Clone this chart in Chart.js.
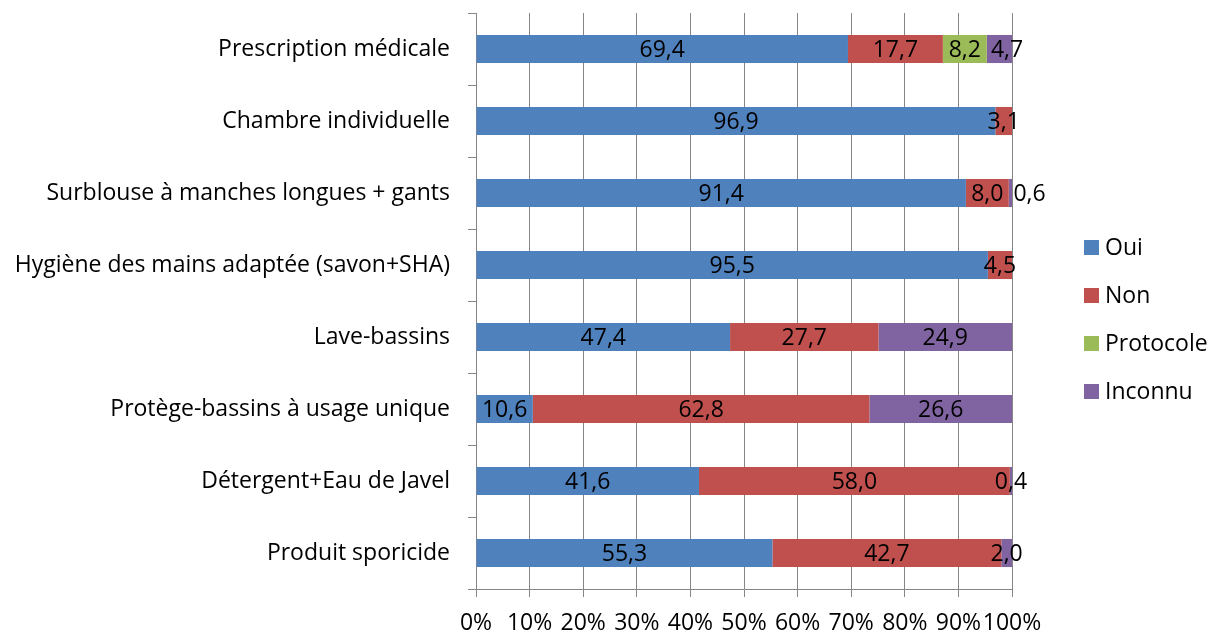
<!DOCTYPE html>
<html>
<head>
<meta charset="utf-8">
<script src="https://cdn.jsdelivr.net/npm/chart.js@4"></script>
<style>
  html, body { margin: 0; padding: 0; background: #fff; }
  #wrap { width: 1212px; height: 633px; }
</style>
</head>
<body>
<div id="wrap"><canvas id="chart" width="1212" height="633"></canvas></div>
<script>
// Categories, top to bottom
const categories = [
  'Prescription médicale',
  'Chambre individuelle',
  'Surblouse à manches longues + gants',
  'Hygiène des mains adaptée (savon+SHA)',
  'Lave-bassins',
  'Protège-bassins à usage unique',
  'Détergent+Eau de Javel',
  'Produit sporicide'
];

// Shares (%) per answer
const oui       = [69.4, 96.9, 91.4, 95.5, 47.4, 10.6, 41.6, 55.3];
const non       = [17.7,  3.1,  8.0,  4.5, 27.7, 62.8, 58.0, 42.7];
const protocole = [ 8.2, null, null, null, null, null, null, null];
const inconnu   = [ 4.7, null,  0.6, null, 24.9, 26.6,  0.4,  2.0];

const seriesNames = ['Oui', 'Non', 'Protocole', 'Inconnu'];
const percentTicks = ['0%', '10%', '20%', '30%', '40%', '50%', '60%', '70%', '80%', '90%', '100%'];

const FONT = '"Open Sans", Lato, sans-serif';
const FONT_SIZE = 23;
const AXIS_GRAY = '#868686';

function fmt(v) { return v.toFixed(1).replace('.', ','); }

// Value labels centred in each segment, nudged right when they would crowd the previous one
const valueLabels = {
  id: 'valueLabels',
  afterDatasetsDraw(chart) {
    const ctx = chart.ctx;
    ctx.save();
    ctx.font = FONT_SIZE + 'px ' + FONT;
    ctx.fillStyle = '#000';
    ctx.textBaseline = 'middle';
    ctx.textAlign = 'left';
    const lastRight = {};
    const minGap = 10;
    chart.data.datasets.forEach((ds, di) => {
      const meta = chart.getDatasetMeta(di);
      meta.data.forEach((bar, i) => {
        const v = ds.data[i];
        if (v == null) return;
        const txt = fmt(v);
        const w = ctx.measureText(txt).width;
        let x = (bar.x + bar.base) / 2 - w / 2;
        if (lastRight[i] !== undefined && x < lastRight[i] + minGap) x = lastRight[i] + minGap;
        ctx.fillText(txt, x, bar.y + 1);
        lastRight[i] = x + w;
      });
    });
    ctx.restore();
  }
};

// Vertical legend on the right of the plot
const sideLegend = {
  id: 'sideLegend',
  afterDraw(chart) {
    const { ctx, chartArea } = chart;
    const x0 = chartArea.right + 72;
    const rowGap = 48;
    const items = chart.data.datasets;
    const midY = chart.height / 2 + 3;
    const startY = midY - rowGap * (items.length - 1) / 2;
    ctx.save();
    ctx.font = FONT_SIZE + 'px ' + FONT;
    ctx.textBaseline = 'middle';
    ctx.textAlign = 'left';
    items.forEach((ds, i) => {
      const y = startY + i * rowGap;
      ctx.fillStyle = ds.backgroundColor;
      ctx.fillRect(x0, y - 7.5, 15, 15);
      ctx.fillStyle = '#000';
      ctx.fillText(ds.label, x0 + 21, y + 1);
    });
    ctx.restore();
  }
};

const colors = ['#4F81BD', '#C0504D', '#9BBB59', '#8064A2'];
const seriesData = [oui, non, protocole, inconnu];

new Chart(document.getElementById('chart'), {
  type: 'bar',
  data: {
    labels: categories,
    datasets: seriesNames.map((name, k) => ({
      label: name,
      data: seriesData[k],
      backgroundColor: colors[k],
      borderWidth: 0,
      barPercentage: 0.39,
      categoryPercentage: 1
    }))
  },
  options: {
    indexAxis: 'y',
    responsive: false,
    animation: false,
    layout: { padding: { top: 13, right: 200, bottom: 0, left: 10 } },
    plugins: {
      legend: { display: false },
      tooltip: { enabled: false }
    },
    scales: {
      x: {
        stacked: true,
        min: 0,
        max: 100,
        ticks: {
          stepSize: 10,
          color: '#000',
          padding: 13,
          maxRotation: 0,
          autoSkip: false,
          font: { family: FONT, size: FONT_SIZE },
          callback: (v) => percentTicks[Math.round(v / 10)]
        },
        grid: { color: AXIS_GRAY, lineWidth: 1, tickLength: 8, drawTicks: true },
        border: { color: AXIS_GRAY, width: 1 },
        afterFit(scale) { scale.height = 44; }
      },
      y: {
        stacked: true,
        ticks: {
          color: '#000',
          padding: 18,
          font: { family: FONT, size: FONT_SIZE }
        },
        grid: { drawOnChartArea: false, color: AXIS_GRAY, tickLength: 8, offset: true },
        border: { color: AXIS_GRAY, width: 1 },
        afterFit(scale) {
          scale.width = 466;
          scale.paddingTop = 0;
          scale.paddingBottom = 0;
        }
      }
    }
  },
  plugins: [valueLabels, sideLegend]
});
</script>
</body>
</html>
